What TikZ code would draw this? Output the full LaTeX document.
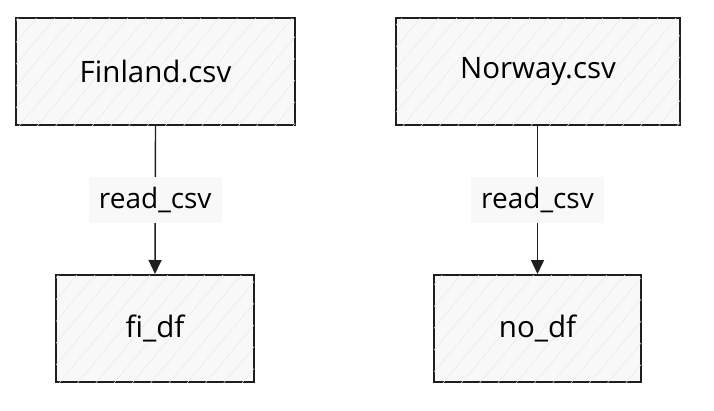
\documentclass[tikz,border=0pt]{standalone}
\usepackage{fontspec}
\setmainfont{Open Sans}
\usetikzlibrary{arrows.meta,patterns.meta}
\definecolor{boxfill}{RGB}{248,248,248}
\definecolor{hatch}{RGB}{232,232,232}
\definecolor{ink}{RGB}{30,30,30}
\begin{document}
\begin{tikzpicture}[x=1pt,y=-1pt,
  databox/.style={draw=ink, line width=2pt, fill=boxfill,
    postaction={pattern={Lines[angle=50,distance=14pt,line width=0.5pt]}, pattern color=hatch},
    minimum height=107pt, inner sep=0pt, font=\fontsize{29.5}{34}\selectfont},
  flow/.style={draw=ink, line width=1.4pt, -{Triangle[length=14pt,width=13pt]}},
  edgelabel/.style={fill=boxfill, minimum width=133pt, minimum height=46pt, inner sep=0pt,
    font=\fontsize{28}{32}\selectfont}]
\useasboundingbox (0,0) rectangle (714,410);
\node[databox, minimum width=279pt] (fin) at (155.5,71.5) {Finland.csv};
\node[databox, minimum width=284pt] (nor) at (538,71.5) {Norway.csv};
\node[databox, minimum width=198pt] (fidf) at (155,328.5) {fi\_df};
\node[databox, minimum width=207pt] (nodf) at (537.5,328.5) {no\_df};
\draw[flow] (fin.south) -- node[edgelabel] (l1) {read\_csv} (fidf.north);
\draw[flow] (nor.south -| nodf.north) -- node[edgelabel] (l2) {read\_csv} (nodf.north);
\end{tikzpicture}
\end{document}
